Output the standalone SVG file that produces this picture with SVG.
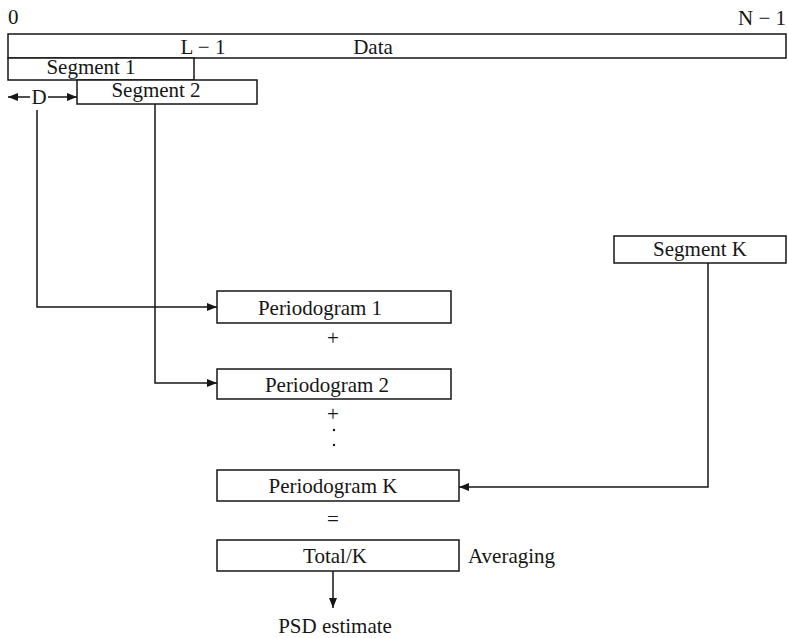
<svg xmlns="http://www.w3.org/2000/svg" width="788" height="638" viewBox="0 0 788 638">
  <style>
    .box { fill: #fff; stroke: #161616; stroke-width: 1.5; }
    .wire { fill: none; stroke: #161616; stroke-width: 1.5; }
    text { font-family: "Liberation Serif", "Times New Roman", serif; font-size: 21px; fill: #161616; }
    .c { text-anchor: middle; }
  </style>
  <defs>
    <marker id="arrow" markerWidth="10" markerHeight="8" refX="10" refY="4" orient="auto" markerUnits="userSpaceOnUse">
      <path d="M0,0 L10,4 L0,8 Z" fill="#161616"/>
    </marker>
  </defs>
  <rect width="788" height="638" fill="#fff"/>

  <!-- index labels -->
  <text x="8" y="24">0</text>
  <text x="786" y="25" text-anchor="end">N − 1</text>

  <!-- data record and segments -->
  <g id="data">
    <rect class="box" x="8" y="34" width="778" height="24"/>
    <text x="203" y="54" class="c">L − 1</text>
    <text x="373" y="54" class="c">Data</text>
  </g>
  <g id="segment1">
    <rect class="box" x="8" y="58" width="186" height="22"/>
    <text x="91" y="74" class="c">Segment 1</text>
  </g>
  <g id="segment2">
    <rect class="box" x="77" y="80" width="180" height="24"/>
    <text x="156" y="97" class="c">Segment 2</text>
  </g>
  <g id="offset">
    <line class="wire" x1="30" y1="97" x2="8" y2="97" marker-end="url(#arrow)"/>
    <text x="39" y="104" class="c">D</text>
    <line class="wire" x1="48" y1="97" x2="77" y2="97" marker-end="url(#arrow)"/>
  </g>
  <g id="segmentK">
    <rect class="box" x="614" y="236" width="172" height="27"/>
    <text x="700" y="256" class="c">Segment K</text>
  </g>

  <!-- periodograms -->
  <g id="periodogram1">
    <rect class="box" x="217" y="291" width="234" height="32"/>
    <text x="320" y="315" class="c">Periodogram 1</text>
  </g>
  <text x="333" y="345" class="c">+</text>
  <g id="periodogram2">
    <rect class="box" x="217" y="369" width="234" height="30"/>
    <text x="327" y="392" class="c">Periodogram 2</text>
  </g>
  <text x="333" y="421" class="c">+</text>
  <circle cx="334" cy="430" r="1.2" fill="#161616"/>
  <circle cx="334" cy="445" r="1.2" fill="#161616"/>
  <g id="periodogramK">
    <rect class="box" x="217" y="470" width="242" height="31"/>
    <text x="333" y="493" class="c">Periodogram K</text>
  </g>
  <text x="333" y="526" class="c">=</text>
  <g id="total">
    <rect class="box" x="217" y="540" width="242" height="31"/>
    <text x="335" y="563" class="c">Total/K</text>
  </g>
  <text x="468" y="563">Averaging</text>
  <text x="335" y="633" class="c">PSD estimate</text>

  <!-- connectors -->
  <g id="connectors">
    <polyline class="wire" points="37,110 37,307 217,307" marker-end="url(#arrow)"/>
    <polyline class="wire" points="155,104 155,383 217,383" marker-end="url(#arrow)"/>
    <polyline class="wire" points="708,263 708,487 459,487" marker-end="url(#arrow)"/>
    <line class="wire" x1="333" y1="571" x2="333" y2="608" marker-end="url(#arrow)"/>
  </g>
</svg>
